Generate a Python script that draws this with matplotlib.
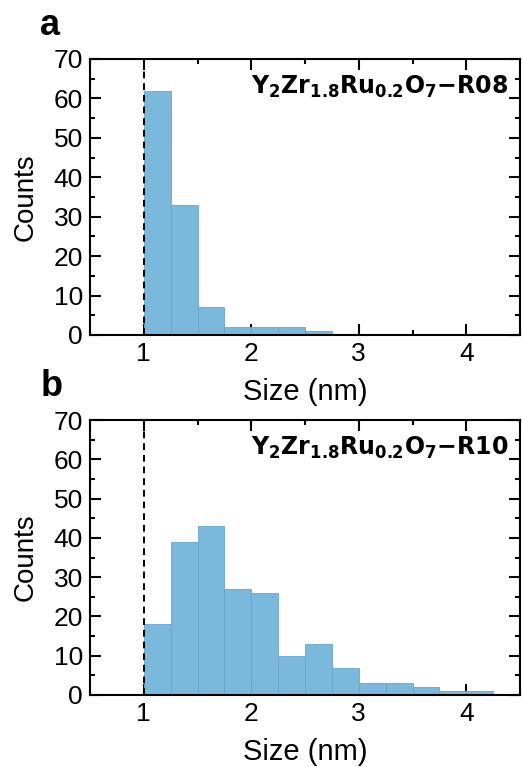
import numpy as np
import matplotlib
matplotlib.use("Agg")
import matplotlib.pyplot as plt
from matplotlib.ticker import MultipleLocator

plt.rcParams['font.family'] = ['Liberation Sans', 'DejaVu Sans']
plt.rcParams['mathtext.fontset'] = 'dejavusans'

bin_edges = [1.0, 1.25, 1.5, 1.75, 2.0, 2.25, 2.5, 2.75, 3.0, 3.25, 3.5, 3.75, 4.0, 4.25]
counts_a = [62, 33, 7, 2, 2, 2, 1, 0, 0, 0, 0, 0, 0]
counts_b = [18, 39, 43, 27, 26, 10, 13, 7, 3, 3, 2, 1, 1]
labels = [r'$\mathbf{Y_2Zr_{1.8}Ru_{0.2}O_7}$$\mathbf{-R08}$',
          r'$\mathbf{Y_2Zr_{1.8}Ru_{0.2}O_7}$$\mathbf{-R10}$']
panel_letters = ['a', 'b']

W, H = 522, 767
fig = plt.figure(figsize=(W/100, H/100), dpi=100)

axes_px = [(90, 59, 520, 335), (90, 420, 520, 695)]
letter_pos = [(40, 35), (41, 396)]
bar_color = '#7ab9dc'
edge_color = '#6aa5c8'

for i, (counts, lab, (x0, y0, x1, y1)) in enumerate(zip([counts_a, counts_b], labels, axes_px)):
    ax = fig.add_axes([x0/W, 1 - y1/H, (x1-x0)/W, (y1-y0)/H])
    edges = np.array(bin_edges)
    ax.bar(edges[:-1], counts, width=np.diff(edges), align='edge',
           color=bar_color, edgecolor=edge_color, linewidth=0.6, zorder=2)
    ax.axvline(1.0, color='black', linestyle=(0, (3.5, 2.5)), linewidth=1.4, zorder=3)
    ax.set_xlim(0.5, 4.5)
    ax.set_ylim(0, 70)
    ax.xaxis.set_major_locator(MultipleLocator(1))
    ax.xaxis.set_minor_locator(MultipleLocator(0.5))
    ax.yaxis.set_major_locator(MultipleLocator(10))
    ax.yaxis.set_minor_locator(MultipleLocator(5))
    ax.tick_params(which='both', direction='in', top=True, right=True, width=1.5)
    ax.tick_params(which='major', length=7.7, labelsize=19, pad=5)
    ax.tick_params(which='minor', length=3.5)
    for s in ax.spines.values():
        s.set_linewidth(1.5)
    ax.set_xlabel('Size (nm)', fontsize=21, labelpad=9)
    ax.set_ylabel('Counts', fontsize=20, labelpad=11)
    ax.text(0.972, 0.9, lab, transform=ax.transAxes, ha='right', va='center',
            fontsize=17, fontweight='bold', family='DejaVu Sans')
    lx, ly = letter_pos[i]
    fig.text(lx/W, 1 - ly/H, panel_letters[i], fontsize=26,
             fontweight='bold', ha='left', va='baseline')

fig.savefig('out.png', dpi=100)
